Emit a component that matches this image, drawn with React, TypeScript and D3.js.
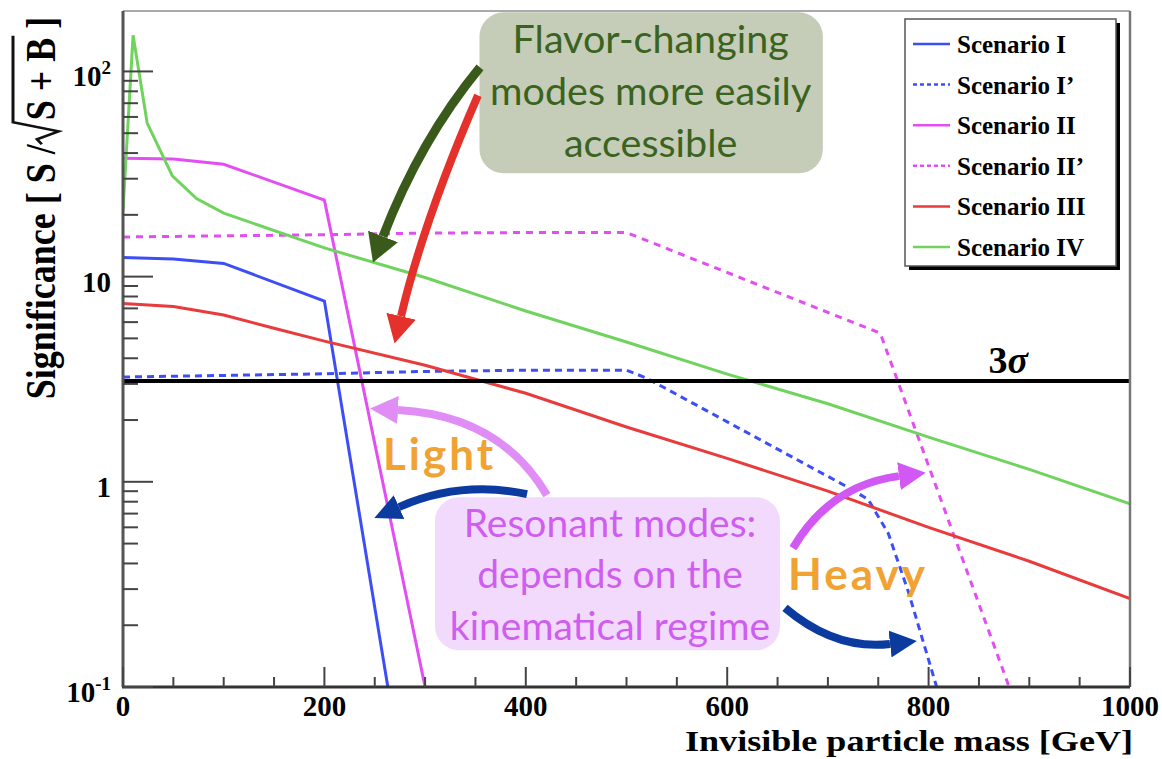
import React, { useRef, useEffect } from "react";
import * as d3 from "d3";

// Invisible particle mass [GeV] vs significance
const massI = [0, 50, 100, 200, 263];
const sigI = [12.4, 12.2, 11.6, 7.6, 0.1];

const massIp = [0, 100, 200, 300, 400, 500, 520, 720, 740, 760, 780, 808];
const sigIp = [3.24, 3.3, 3.36, 3.45, 3.5, 3.5, 3.2, 0.94, 0.82, 0.56, 0.29, 0.1];

const massII = [0, 50, 100, 200, 300];
const sigII = [37.7, 37.4, 35.3, 23.6, 0.1];

const massIIp = [0, 100, 200, 300, 400, 500, 752, 880];
const sigIIp = [15.6, 15.8, 16.0, 16.3, 16.4, 16.4, 5.3, 0.1];

const massIII = [0, 50, 100, 150, 200, 300, 400, 500, 600, 700, 800, 900, 1000];
const sigIII = [7.4, 7.15, 6.5, 5.6, 4.85, 3.7, 2.7, 1.85, 1.3, 0.9, 0.6, 0.41, 0.27];

const massIV = [0, 10, 24, 49, 73, 100, 200, 300, 400, 500, 600, 700, 800, 900, 1000];
const sigIV = [21, 150, 56, 31, 24, 20.4, 13.8, 9.9, 6.8, 4.8, 3.35, 2.4, 1.65, 1.15, 0.78];

const scenarioNames = [
  "Scenario I",
  "Scenario I\u2019",
  "Scenario II",
  "Scenario II\u2019",
  "Scenario III",
  "Scenario IV",
];

const xTicks = [0, 200, 400, 600, 800, 1000];
const yDecades = [-1, 0, 1, 2];
const threeSigma = 3.1;

const flavorText = ["Flavor-changing", "modes more easily", "accessible"];
const resonantText = ["Resonant modes:", "depends on the", "kinematical regime"];

const App = () => {
  const svgRef = useRef<SVGSVGElement>(null);

  useEffect(() => {
    const width = 1162;
    const height = 759;
    const plot = { left: 123, right: 1130, top: 11, bottom: 687 };

    const svg = d3.select(svgRef.current).attr("width", width).attr("height", height);
    svg.selectAll("*").remove();

    const x = d3.scaleLinear().domain([0, 1000]).range([plot.left, plot.right]);
    const y = d3.scaleLog().domain([0.1, 197]).range([plot.bottom, plot.top]);

    const serif = "'Liberation Serif', 'Times New Roman', serif";
    const sans = "Lato, 'Open Sans', sans-serif";

    const styles = [
      { color: "#3d4ef7", dash: null },
      { color: "#3d4ef7", dash: "7,5" },
      { color: "#e24ef2", dash: null },
      { color: "#e24ef2", dash: "7,6" },
      { color: "#e83b3b", dash: null },
      { color: "#6fd35e", dash: null },
    ];

    const series = [
      [massI, sigI],
      [massIp, sigIp],
      [massII, sigII],
      [massIIp, sigIIp],
      [massIII, sigIII],
      [massIV, sigIV],
    ].map(([m, s]) => m.map((v, i) => [v, s[i]] as [number, number]));

    const defs = svg.append("defs");
    defs
      .append("clipPath")
      .attr("id", "plot-clip")
      .append("rect")
      .attr("x", plot.left)
      .attr("y", plot.top)
      .attr("width", plot.right - plot.left)
      .attr("height", plot.bottom - plot.top);

    // Curves
    const line = d3
      .line<[number, number]>()
      .x((d) => x(d[0]))
      .y((d) => y(d[1]));

    const curves = svg.append("g").attr("clip-path", "url(#plot-clip)");
    series.forEach((pts, i) => {
      curves
        .append("path")
        .datum(pts)
        .attr("fill", "none")
        .attr("stroke", styles[i].color)
        .attr("stroke-width", 3)
        .attr("stroke-dasharray", styles[i].dash)
        .attr("d", line);
    });

    // 3 sigma line
    svg
      .append("line")
      .attr("x1", plot.left)
      .attr("x2", plot.right)
      .attr("y1", y(threeSigma))
      .attr("y2", y(threeSigma))
      .attr("stroke", "#000")
      .attr("stroke-width", 4);

    const sig = svg
      .append("text")
      .attr("x", x(879))
      .attr("y", y(3.38))
      .attr("text-anchor", "middle")
      .style("font-family", serif)
      .style("font-weight", "bold")
      .style("font-size", "38px");
    sig.append("tspan").text("3");
    sig.append("tspan").style("font-style", "italic").text("\u03c3");

    // Frame
    svg.append("line").attr("x1", plot.left).attr("x2", plot.right).attr("y1", plot.top).attr("y2", plot.top)
      .attr("stroke", "#aaa").attr("stroke-width", 2);
    svg.append("line").attr("x1", plot.right).attr("x2", plot.right).attr("y1", plot.top).attr("y2", plot.bottom)
      .attr("stroke", "#777").attr("stroke-width", 2.5);
    svg.append("line").attr("x1", plot.left).attr("x2", plot.left).attr("y1", plot.top).attr("y2", plot.bottom)
      .attr("stroke", "#555").attr("stroke-width", 3);
    svg.append("line").attr("x1", plot.left - 1).attr("x2", plot.right).attr("y1", plot.bottom).attr("y2", plot.bottom)
      .attr("stroke", "#333").attr("stroke-width", 3);

    // Y ticks (log, inside)
    const axisG = svg.append("g").attr("stroke", "#444").attr("stroke-width", 2);
    yDecades.forEach((p) => {
      const base = Math.pow(10, p);
      axisG.append("line").attr("x1", plot.left).attr("x2", plot.left + 30)
        .attr("y1", y(base)).attr("y2", y(base));
      for (let k = 2; k <= 9; k++) {
        const v = k * base;
        if (v > 197) continue;
        axisG.append("line").attr("x1", plot.left).attr("x2", plot.left + 15)
          .attr("y1", y(v)).attr("y2", y(v));
      }
    });

    // X ticks (inside)
    d3.range(0, 1001, 50).forEach((v) => {
      const major = v % 200 === 0;
      axisG.append("line").attr("x1", x(v)).attr("x2", x(v))
        .attr("y1", plot.bottom).attr("y2", plot.bottom - (major ? 20 : 10));
    });

    // Tick labels
    xTicks.forEach((v) => {
      svg.append("text").attr("x", x(v)).attr("y", 716).attr("text-anchor", "middle")
        .style("font-family", serif).style("font-weight", "bold").style("font-size", "29px")
        .text(v);
    });

    yDecades.forEach((p) => {
      const t = svg.append("text").attr("x", 111).attr("y", y(Math.pow(10, p)) + 15)
        .attr("text-anchor", "end")
        .style("font-family", serif).style("font-weight", "bold").style("font-size", "29px");
      if (p === 0) {
        t.text("1");
      } else if (p === 1) {
        t.text("10");
      } else {
        t.append("tspan").text("10");
        t.append("tspan").attr("dy", -12).style("font-size", "19px").text(String(p));
      }
    });

    // Axis titles
    svg.append("text").attr("x", 1133).attr("y", 751).attr("text-anchor", "end")
      .attr("textLength", 448).attr("lengthAdjust", "spacingAndGlyphs")
      .style("font-family", serif).style("font-weight", "bold").style("font-size", "30px")
      .text("Invisible particle mass [GeV]");

    const yTitle = svg.append("g").attr("transform", "translate(55,208) rotate(-90) scale(1,1.2)");
    const yt = yTitle.append("text").attr("text-anchor", "middle")
      .style("font-family", serif).style("font-weight", "bold").style("font-size", "36px");
    yt.append("tspan").text("Significance [ S /");
    yt.append("tspan").attr("dx", 24).text("S + B ]");
    const ytNode = yt.node() as SVGTextElement;
    const sx = ytNode.getStartPositionOfChar(18).x;
    const bx = ytNode.getEndPositionOfChar(22).x;
    yTitle.append("path")
      .attr("d", `M${sx - 24},-11 L${sx - 19},-15 L${sx - 11},3 L${sx - 2},-35 L${bx + 2},-35`)
      .attr("fill", "none").attr("stroke", "#111").attr("stroke-width", 2.5);

    // Annotation boxes (placed in data coordinates)
    const box = (x0: number, x1: number, s0: number, s1: number, fill: string) => {
      svg.append("rect")
        .attr("x", x(x0)).attr("y", y(s0))
        .attr("width", x(x1) - x(x0)).attr("height", y(s1) - y(s0))
        .attr("rx", 24).attr("fill", fill);
    };
    box(354, 695, 194, 31.9, "#c5cdb9");
    box(309.8, 652.4, 0.842, 0.151, "#f2dafc");

    const flavorY = [122.5, 68.4, 38.2];
    flavorText.forEach((s, i) => {
      svg.append("text").attr("x", x(524)).attr("y", y(flavorY[i])).attr("text-anchor", "middle")
        .style("font-family", sans).style("font-size", "39.5px").attr("fill", "#3b6320").text(s);
    });
    const resonantY = [0.538, 0.303, 0.1695];
    resonantText.forEach((s, i) => {
      svg.append("text").attr("x", x(483.6)).attr("y", y(resonantY[i])).attr("text-anchor", "middle")
        .style("font-family", sans).style("font-size", "39px").attr("fill", "#cf5ef0").text(s);
    });

    svg.append("text").attr("x", x(258.2)).attr("y", y(1.14))
      .style("font-family", sans).style("font-weight", "bold").style("font-size", "44px")
      .style("letter-spacing", "3px")
      .attr("fill", "#f0a232").text("Light");
    svg.append("text").attr("x", x(660.4)).attr("y", y(0.297))
      .style("font-family", sans).style("font-weight", "bold").style("font-size", "44px")
      .style("letter-spacing", "3px")
      .attr("fill", "#f0a232").text("Heavy");

    // Arrows
    const arrows = [
      { from: [354.5, 104.7], ctrl: [294.9, 46.2], to: [258.2, 15.7], color: "#3a5a1b", w: 9, head: [28, 32] },
      { from: [352.5, 76.5], ctrl: [298.9, 19.0], to: [276.1, 6.41], color: "#e4312b", w: 8, head: [28, 30] },
      { from: [421, 0.861], ctrl: [374.1, 2.11], to: [273.1, 2.24], color: "#e08ef6", w: 8, head: [28, 28] },
      { from: [401.2, 0.871], ctrl: [334.7, 1.019], to: [274.1, 0.753], color: "#0b3b9f", w: 8, head: [27, 26] },
      { from: [665.3, 0.475], ctrl: [702.1, 0.964], to: [770.6, 1.066], color: "#d258f4", w: 8, head: [27, 28] },
      { from: [657.4, 0.243], ctrl: [707.1, 0.151], to: [761.7, 0.162], color: "#0b3b9f", w: 8, head: [27, 27] },
    ];
    arrows.forEach((a, i) => {
      defs.append("marker")
        .attr("id", `arrow-${i}`)
        .attr("viewBox", "0 0 10 10")
        .attr("refX", 0).attr("refY", 5)
        .attr("markerUnits", "userSpaceOnUse")
        .attr("markerWidth", a.head[0]).attr("markerHeight", a.head[1])
        .attr("preserveAspectRatio", "none")
        .attr("orient", "auto")
        .append("path").attr("d", "M0,0 L10,5 L0,10 Z").attr("fill", a.color);
      svg.append("path")
        .attr("d", `M${x(a.from[0])},${y(a.from[1])} Q${x(a.ctrl[0])},${y(a.ctrl[1])} ${x(a.to[0])},${y(a.to[1])}`)
        .attr("fill", "none").attr("stroke", a.color).attr("stroke-width", a.w)
        .attr("marker-end", `url(#arrow-${i})`);
    });

    // Legend
    const lg = { x: 905, y: 19, w: 211, h: 247 };
    svg.append("rect").attr("x", lg.x + 4).attr("y", lg.y + 4).attr("width", lg.w).attr("height", lg.h).attr("fill", "#000");
    svg.append("rect").attr("x", lg.x).attr("y", lg.y).attr("width", lg.w).attr("height", lg.h)
      .attr("fill", "#fff").attr("stroke", "#555").attr("stroke-width", 1.5);

    const legend = svg.selectAll(".legend").data(scenarioNames).enter().append("g")
      .attr("class", "legend")
      .attr("transform", (_, i) => `translate(${lg.x}, ${44 + i * 40.6})`);
    legend.append("line").attr("x1", 8).attr("x2", 45).attr("y1", 0).attr("y2", 0)
      .attr("stroke", (_, i) => styles[i].color).attr("stroke-width", 2.5)
      .attr("stroke-dasharray", (_, i) => (styles[i].dash ? "4,3" : null));
    legend.append("text").attr("x", 52).attr("y", 9).text((d) => d)
      .style("font-family", serif).style("font-weight", "bold").style("font-size", "25px");
  }, []);

  return <svg ref={svgRef} style={{ position: "absolute", left: 0, top: 0, background: "#fff" }}></svg>;
};

export default App;
